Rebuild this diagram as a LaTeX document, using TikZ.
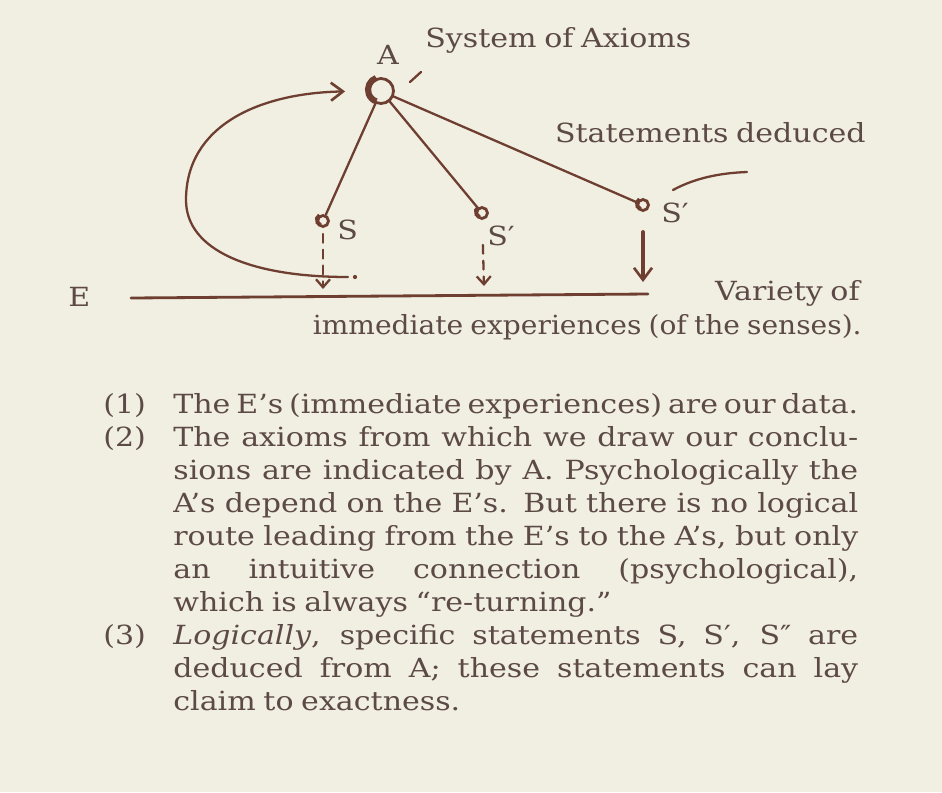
\documentclass[tikz,border=0pt]{standalone}
\usepackage{fontspec}
\usepackage{graphicx}
\setmainfont{DejaVu Serif}[FakeStretch=1.14, WordSpace=0.8]
\usetikzlibrary{arrows.meta}

\definecolor{paper}{RGB}{241,238,226}
\definecolor{ink}{RGB}{110,62,48}
\definecolor{print}{RGB}{92,74,70}

\newlength\colw
\setlength\colw{13.7cm}
\newcommand{\jline}[1]{\makebox[\colw][s]{\strut#1}}

\begin{document}
\begin{tikzpicture}[x=0.02cm, y=-0.02cm,
    txt/.style={text=print, font=\fontsize{15}{18.8}\selectfont, inner sep=0pt},
    body/.style={txt, align=left, anchor=north west},
    pen/.style={draw=ink, line width=1.3pt, line cap=round},
    dashpen/.style={pen, dash pattern=on 5pt off 4pt, -{Straight Barb[length=1.6mm, width=2.8mm]}},
    dot/.style={circle, draw=ink, line width=1.6pt, inner sep=0pt, minimum size=0.22cm},
    tip/.style={-{Straight Barb[length=2.4mm, width=3.6mm, line width=1.5pt]}}
]
    % paper
    \fill[paper] (0,0) rectangle (942,792);
    \useasboundingbox (0,0) rectangle (942,792);

    % Axiome A
    \node[circle, draw=ink, line width=1.6pt, inner sep=0pt, minimum size=0.5cm] (ax) at (381,91) {};
    \draw[ink, line width=3.5pt] (ax.110) arc[start angle=110, end angle=250, radius=0.25cm];
    \draw[pen] (410,82) -- (421,72);
    \node[txt, anchor=base] (alab) at (388,64) {A};
    \node[txt, anchor=base west] (axioms) at (425,47) {System of Axioms};

    % Aussagen S, S', S'
    \node[dot] (s1) at (323,221) {};
    \node[dot] (s2) at (482,213) {};
    \node[dot] (s3) at (643,205) {};
    \foreach \s in {s1,s2,s3}
        \draw[ink, line width=2.2pt] (\s.120) arc[start angle=120, end angle=250, radius=0.11cm];
    \node[txt, anchor=base west] (s1lab) at (337,239) {S};
    \node[txt, anchor=base west] (s2lab) at (487,245) {S′};
    \node[txt, anchor=base west] (s3lab) at (661,222) {S′};
    \node[txt, anchor=base east] (deduced) at (866,142) {Statements deduced};

    \draw[pen] (ax) -- (s1);
    \draw[pen] (ax) -- (s2);
    \draw[pen] (ax) -- (s3);
    \coordinate (hook1) at (673,190);
    \coordinate (hook2) at (747,172);
    \draw[pen] (hook1) .. controls (695,178) and (720,173) .. (hook2);

    % Erlebnisse E
    \node[txt, anchor=base west] (elab) at (68,306) {E};
    \coordinate (estart) at (131,298);
    \coordinate (eend) at (648,294);
    \draw[pen, line width=1.6pt] (estart) -- (eend);
    \node[txt, anchor=base east] (variety) at (860,300) {Variety of};
    \node[txt, anchor=base east] (immed) at (862,334) {\scalebox{0.935}[1]{immediate experiences (of the senses).}};

    % Pfeile nach unten
    \coordinate (e1) at (323,289);
    \coordinate (e2) at (484,286);
    \coordinate (e3) at (643,282);
    \draw[dashpen, shorten <=0.12cm] (s1) -- (e1);
    \draw[dashpen, shorten <=0.5cm] (s2) -- (e2);
    \draw[pen, line width=2pt, tip, shorten <=0.4cm] (s3) -- (e3);

    % intuitive Rueckkehr
    \coordinate (loopfoot) at (348,277);
    \draw[pen, tip, shorten >=0.44cm] (loopfoot) .. controls (250,277) and (186,250) .. (186,200)
        .. controls (186,125) and (260,93) .. (ax.west);
    \fill[ink] (355,277) circle[radius=1.2pt];

    % Text
    \node[txt, anchor=base west] (num1) at (103,413) {(1)};
    \node[body] (item1) at (173,390) {\jline{The E’s (immediate experiences) are our data.}};
    \node[txt, anchor=base west] (num2) at (103,446) {(2)};
    \node[body] (item2) at (173,423) {%
        \jline{The axioms from which we draw our conclu-}\\
        \jline{sions are indicated by A. Psychologically the}\\
        \jline{A’s depend on the E’s. But there is no logical}\\
        \jline{route leading from the E’s to the A’s, but only}\\
        \jline{an intuitive connection (psychological),}\\
        \strut which is always “re-turning.”};
    \node[txt, anchor=base west] (num3) at (103,644) {(3)};
    \node[body] (item3) at (173,621) {%
        \jline{\textit{Logically}, specific statements S, S′, S″ are}\\
        \jline{deduced from A; these statements can lay}\\
        \strut claim to exactness.};
\end{tikzpicture}
\end{document}
